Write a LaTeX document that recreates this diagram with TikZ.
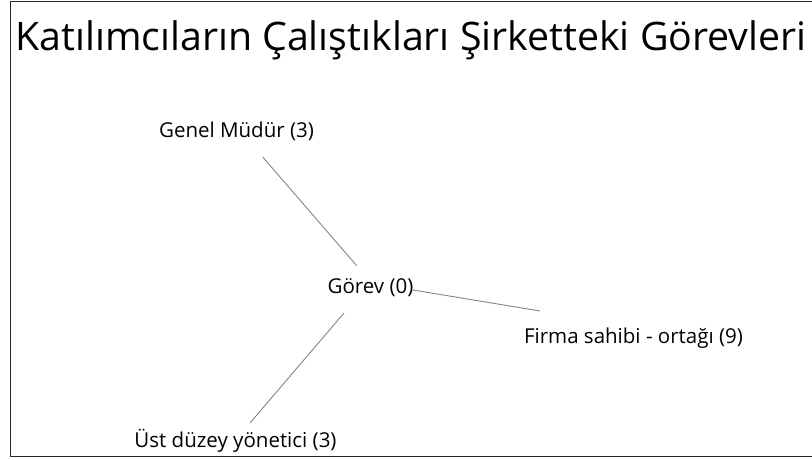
\documentclass[tikz,border=0pt]{standalone}
\usepackage{fontspec}
\setmainfont{Open Sans}
\begin{document}
\begin{tikzpicture}[x=1pt,y=-1pt,
  title/.style={inner sep=0pt,anchor=base,font=\fontsize{39.3}{45}\selectfont},
  role/.style={inner sep=0pt,anchor=base,font=\fontsize{20.5}{24}\selectfont},
  link/.style={draw=black!48,line width=0.9pt},
  frame/.style={draw=black!85,line width=1.3pt}]
\useasboundingbox (0,0) rectangle (812,459);
% frame on three sides
\draw[frame] (812,1.5) -- (10.5,1.5) -- (10.5,456.5) -- (812,456.5);
% heading
\node[title] (head) at (411,50) {Katılımcıların Çalıştıkları Şirketteki Görevleri};
% role labels
\node[role] (gm)    at (236.5,137) {Genel Müdür (3)};
\node[role] (gor)   at (370.5,293.3) {Görev (0)};
\node[role] (firma) at (633.5,343.3) {Firma sahibi - ortağı (9)};
\node[role] (ust)   at (235.5,447)   {Üst düzey yönetici (3)};
% connectors
\draw[link] ([shift={(26.2,20)}]gm.base) -- ([shift={(-13.8,-27.6)}]gor.base);
\draw[link] ([shift={(42.5,-3.3)}]gor.base) -- ([shift={(-93.5,-32.3)}]firma.base);
\draw[link] ([shift={(-26.5,19.7)}]gor.base) -- ([shift={(14.5,-24)}]ust.base);
\end{tikzpicture}
\end{document}
